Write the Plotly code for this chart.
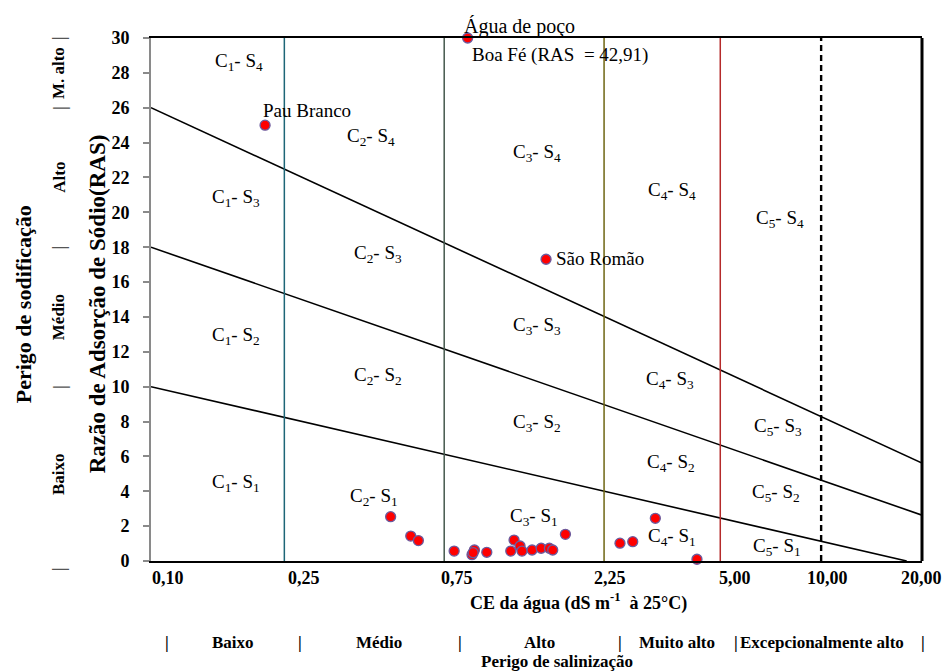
import numpy as np
import plotly.graph_objects as go

# ---- data -------------------------------------------------------------
# Electrical conductivity (dS m-1) and sodium adsorption ratio of each well
ce_values = [0.219, 0.881, 1.51, 0.519, 0.596, 0.628, 0.803, 0.908, 0.923,
             0.915, 1.005, 1.185, 1.212, 1.263, 1.28, 1.372, 1.46, 1.545,
             1.581, 1.725, 2.51, 2.74, 3.20, 4.26]
ras_values = [25.0, 42.91, 17.31, 2.54, 1.43, 1.17, 0.57, 0.36, 0.63,
              0.48, 0.50, 0.57, 1.20, 0.86, 0.57, 0.63, 0.73, 0.73,
              0.63, 1.53, 1.02, 1.11, 2.45, 0.10]
well_names = ["Pau Branco", "Boa Fé", "São Romão"]  # first three samples

# Sodicity class boundaries (straight lines on the log CE scale)
s12_ce, s12_ras = [0.10, 18.0], [10.0, 0.0]
s23_ce, s23_ras = [0.10, 20.0], [18.0, 2.63]
s34_ce, s34_ras = [0.10, 20.0], [26.0, 5.62]

# Salinity class limits
salinity_limits = [0.25, 0.75, 2.25, 5.00]
limit_colors = ["#1d6677", "#44584c", "#6e6512", "#b52a2a"]
extra_limit = 10.0

ce_ticks = [0.10, 0.25, 0.75, 2.25, 5.00, 10.00, 20.00]
ce_ticklabels = ["0,10", "0,25", "0,75", "2,25", "5,00", "10,00", "20,00"]
ce_label_shift = [17, 20, 13, 6, 15, 6, -1]

ras_ticks = list(range(0, 31, 2))
ras_max = 30

# Classes C1..C5 / S1..S4 and where their labels sit (CE, RAS)
zone_labels = [
    (0.183, 28.6, 1, 4), (0.454, 24.3, 2, 4), (1.42, 23.4, 3, 4), (3.59, 21.2, 4, 4), (7.55, 19.6, 5, 4),
    (0.179, 20.8, 1, 3), (0.477, 17.6, 2, 3), (1.42, 13.5, 3, 3), (3.54, 10.4, 4, 3), (7.45, 7.7, 5, 3),
    (0.179, 12.9, 1, 2), (0.477, 10.6, 2, 2), (1.42, 7.9, 3, 2), (3.56, 5.6, 4, 2), (7.35, 3.9, 5, 2),
    (0.179, 4.5, 1, 1), (0.464, 3.7, 2, 1), (1.39, 2.5, 3, 1), (3.59, 1.4, 4, 1), (7.39, 0.8, 5, 1),
]

sodicity_limits = [0, 10, 18, 26, 30]
sodicity_classes = ["Baixo", "Médio", "Alto", "M. alto"]
salinity_bounds = [0.10, 0.25, 0.75, 2.25, 5.00, 20.00]
salinity_classes = ["Baixo", "Médio", "Alto", "Muito alto", "Excepcionalmente alto"]

SERIF = "'Liberation Serif', 'Times New Roman', 'DejaVu Serif', serif"

fig = go.Figure()

# Sodicity boundary lines
for cx, ry in [(s12_ce, s12_ras), (s23_ce, s23_ras), (s34_ce, s34_ras)]:
    fig.add_trace(go.Scatter(x=cx, y=ry, mode="lines",
                             line=dict(color="black", width=1.6),
                             hoverinfo="skip", showlegend=False))

# Salinity limits
for v, c in zip(salinity_limits, limit_colors):
    fig.add_trace(go.Scatter(x=[v, v], y=[0, ras_max], mode="lines",
                             line=dict(color=c, width=1.5),
                             hoverinfo="skip", showlegend=False))
fig.add_trace(go.Scatter(x=[extra_limit, extra_limit], y=[0, ras_max], mode="lines",
                         line=dict(color="black", width=2.4, dash="6px,4px"),
                         hoverinfo="skip", showlegend=False))

# Samples (values above the axis maximum are drawn on the top edge)
ras_plot = np.minimum(np.array(ras_values), ras_max)
fig.add_trace(go.Scatter(x=ce_values, y=ras_plot, mode="markers",
                         marker=dict(size=10, color="#ff0000",
                                     line=dict(color="#6b5b9e", width=1.3)),
                         cliponaxis=False, showlegend=False))

ann = []
tfont = dict(family=SERIF, size=19, color="black")


def note(**kw):
    kw.setdefault("showarrow", False)
    kw.setdefault("xanchor", "center")
    kw.setdefault("yanchor", "middle")
    ann.append(kw)


# Zone labels
for cx, ry, c, s in zone_labels:
    note(x=np.log10(cx), y=ry, xref="x", yref="y",
         text=f"C<sub>{c}</sub>- S<sub>{s}</sub>", font=tfont)

# Named wells
note(x=np.log10(ce_values[0]), y=ras_plot[0], xref="x", yref="y",
     text=well_names[0], xanchor="left", xshift=-4, yshift=15, font=tfont)
note(x=np.log10(ce_values[2]), y=ras_plot[2], xref="x", yref="y",
     text=well_names[2], xanchor="left", xshift=8, yshift=1, font=tfont)
boa_text = f"{well_names[1]} (RAS  = {ras_values[1]:.2f})".replace(".", ",")
note(x=np.log10(ce_values[1]), y=ras_plot[1], xref="x", yref="y",
     text=boa_text, xanchor="left", xshift=2, yshift=-17, font=tfont)
note(x=np.log10(ce_values[1]), y=ras_max, xref="x", yref="y",
     text="Água de poço", xanchor="left", yanchor="bottom", xshift=-6, yshift=-2,
     font=dict(family=SERIF, size=20, color="black"))

# X tick labels
bfont = dict(family=SERIF, size=18, color="black")
for v, lbl, dx in zip(ce_ticks, ce_ticklabels, ce_label_shift):
    note(x=np.log10(v), y=0, xref="x", yref="paper", text=f"<b>{lbl}</b>",
         yanchor="top", xshift=dx, yshift=-5, font=bfont)

# Axis titles
note(x=0.554, y=0, xref="paper", yref="paper",
     text="<b>CE da água (dS m<sup>-1</sup>  à 25°C)</b>",
     yanchor="top", yshift=-27, font=dict(family=SERIF, size=18, color="black"))
note(x=-0.070, y=0.491, xref="paper", yref="paper",
     text="<b>Razão de Adsorção de Sódio(RAS)</b>", textangle=-90,
     font=dict(family=SERIF, size=23, color="black"))
note(x=-0.166, y=0.491, xref="paper", yref="paper",
     text="<b>Perigo de sodificação</b>", textangle=-90,
     font=dict(family=SERIF, size=22, color="black"))

# Sodicity hazard classes along the left side
cfont = dict(family=SERIF, size=17, color="black")
for lim in sodicity_limits:
    note(x=-0.119, y=lim, xref="paper", yref="y", text="<b>|</b>",
         textangle=-90, font=dict(family=SERIF, size=18, color="#555555"),
         yshift=-8 if lim == 0 else 0)
for lo, hi, name in zip(sodicity_limits[:-1], sodicity_limits[1:], sodicity_classes):
    note(x=-0.119, y=(lo + hi) / 2, xref="paper", yref="y",
         text=f"<b>{name}</b>", textangle=-90, font=cfont)

# Salinity hazard classes below the axis
for b in salinity_bounds:
    note(x=np.log10(b), y=0, xref="x", yref="paper", text="<b>|</b>",
         yshift=-81, xshift=16 if b < 20 else 1, font=cfont)
for lo, hi, name in zip(salinity_bounds[:-1], salinity_bounds[1:], salinity_classes):
    note(x=(np.log10(lo) + np.log10(hi)) / 2, y=0, xref="x", yref="paper",
         text=f"<b>{name}</b>", yshift=-81, xshift=15 if hi < 20 else 1, font=cfont)
note(x=0.527, y=0, xref="paper", yref="paper",
     text="<b>Perigo de salinização</b>", yshift=-100, font=cfont)

fig.update_layout(
    width=945, height=671,
    margin=dict(l=151, r=23, t=38, b=110),
    plot_bgcolor="white", paper_bgcolor="white",
    font=dict(family=SERIF),
    annotations=ann,
    shapes=[dict(type="line", xref="paper", yref="paper", x0=1, x1=1, y0=0, y1=1,
                 line=dict(color="black", width=3))],
    xaxis=dict(type="log", range=[-1, np.log10(20)], showgrid=False,
               showticklabels=False, ticks="", zeroline=False,
               showline=True, linecolor="black", linewidth=2, mirror=True),
    yaxis=dict(range=[0, ras_max], tickvals=ras_ticks, showgrid=False,
               zeroline=False, showline=True, linecolor="#8a8a8a", linewidth=2,
               ticks="outside", ticklen=6, tickcolor="#8a8a8a", tickwidth=1.5,
               ticklabelstandoff=10,
               tickfont=dict(family=SERIF, size=18, color="black", weight="bold")),
)

fig.write_html("out.html")
